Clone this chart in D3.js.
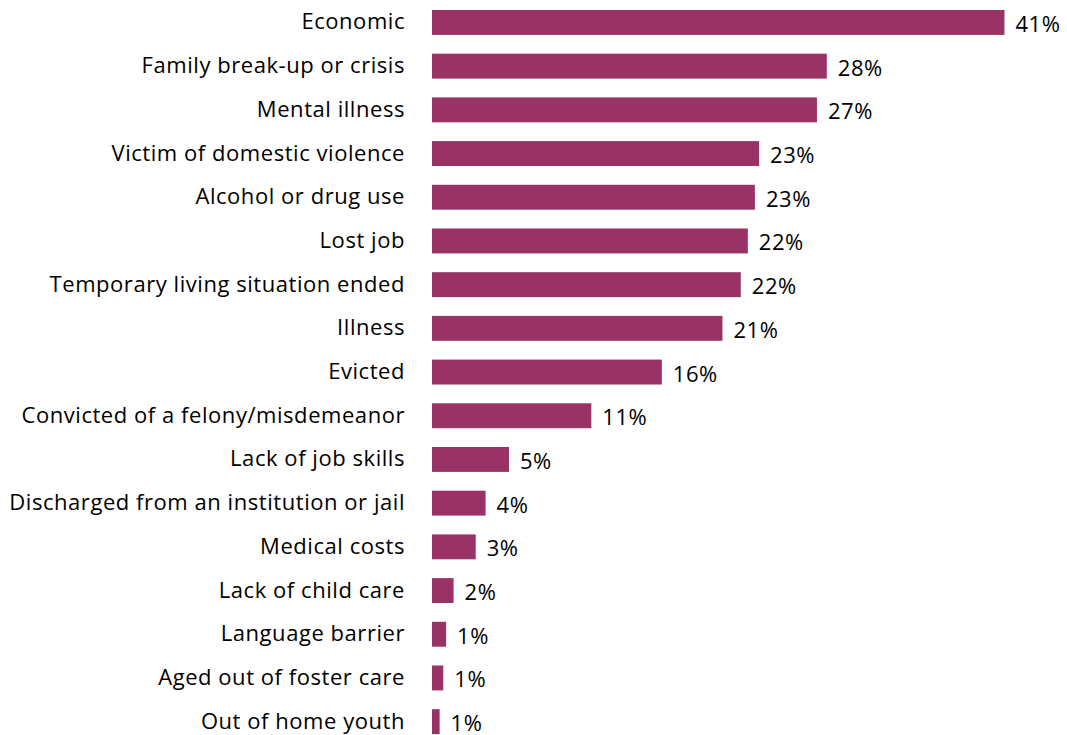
<!DOCTYPE html>
<html>
<head>
<meta charset="utf-8">
<script src="https://cdn.jsdelivr.net/npm/d3@7"></script>
<style>
  html, body { margin: 0; padding: 0; background: #fff; }
  svg { display: block; }
  text { font-family: "Open Sans", sans-serif; fill: #000; letter-spacing: 0.55px; }
</style>
</head>
<body>
<svg id="chart" width="1067" height="735"></svg>
<script>
// Reasons reported for homelessness (share of respondents, %)
const categories = [
  "Economic",
  "Family break-up or crisis",
  "Mental illness",
  "Victim of domestic violence",
  "Alcohol or drug use",
  "Lost job",
  "Temporary living situation ended",
  "Illness",
  "Evicted",
  "Convicted of a felony/misdemeanor",
  "Lack of job skills",
  "Discharged from an institution or jail",
  "Medical costs",
  "Lack of child care",
  "Language barrier",
  "Aged out of foster care",
  "Out of home youth"
];
const values = [40.6, 28.0, 27.3, 23.2, 22.9, 22.4, 21.9, 20.6, 16.3, 11.3, 5.46, 3.8, 3.1, 1.53, 1.0, 0.8, 0.54];

const svg = d3.select("#chart");
const barColor = "#993366";
const x0 = 432;

const x = d3.scaleLinear().domain([0, 45]).range([x0, x0 + 45 * 14.1]);
const step = 43.7;
const y = d3.scaleBand()
  .domain(categories)
  .range([0.6, 0.6 + categories.length * step])
  .paddingInner(0.43)
  .paddingOuter(0.215);

const data = categories.map((c, i) => ({ c, v: values[i] }));
const fmt = v => d3.format(".0f")(v) + "%";
const mid = d => y(d.c) + y.bandwidth() / 2;

svg.append("g").selectAll("rect").data(data).join("rect")
  .attr("x", x(0))
  .attr("y", d => y(d.c))
  .attr("width", d => x(d.v) - x(0))
  .attr("height", y.bandwidth())
  .attr("fill", barColor);

// category labels, right-aligned against the bars
svg.append("g").selectAll("text").data(data).join("text")
  .attr("x", x0 - 27)
  .attr("y", d => mid(d) + 7)
  .attr("text-anchor", "end")
  .attr("font-size", 22)
  .text(d => d.c);

// value labels at the bar ends
svg.append("g").selectAll("text").data(data).join("text")
  .attr("x", d => x(d.v) + 11)
  .attr("y", d => mid(d) + 9.5)
  .attr("font-size", 22)
  .text(d => fmt(d.v));
</script>
</body>
</html>
